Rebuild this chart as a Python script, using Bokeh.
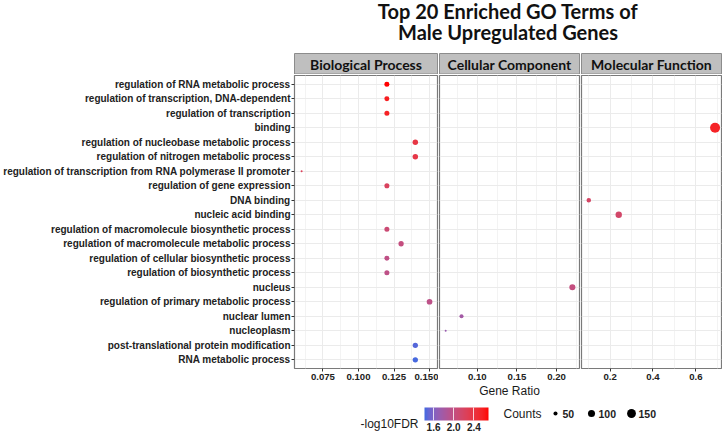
import numpy as np
from bokeh.plotting import figure
from bokeh.models import (ColumnDataSource, FactorRange, Range1d, FixedTicker,
                          NumeralTickFormatter, LinearColorMapper, ColorBar, Label)
from bokeh.layouts import column, row
from bokeh.transform import linear_cmap
from bokeh.embed import file_html
from bokeh.resources import INLINE
from bokeh.core.properties import value

# ---------------- data ----------------
title_lines = ["Top 20 Enriched GO Terms of", "Male Upregulated Genes"]
panels = ["Biological Process", "Cellular Component", "Molecular Function"]

terms = [
    "regulation of RNA metabolic process",
    "regulation of transcription, DNA-dependent",
    "regulation of transcription",
    "binding",
    "regulation of nucleobase metabolic process",
    "regulation of nitrogen metabolic process",
    "regulation of transcription from RNA polymerase II promoter",
    "regulation of gene expression",
    "DNA binding",
    "nucleic acid binding",
    "regulation of macromolecule biosynthetic process",
    "regulation of macromolecule metabolic process",
    "regulation of cellular biosynthetic process",
    "regulation of biosynthetic process",
    "nucleus",
    "regulation of primary metabolic process",
    "nuclear lumen",
    "nucleoplasm",
    "post-translational protein modification",
    "RNA metabolic process",
]
category = [
    "Biological Process", "Biological Process", "Biological Process",
    "Molecular Function",
    "Biological Process", "Biological Process", "Biological Process", "Biological Process",
    "Molecular Function", "Molecular Function",
    "Biological Process", "Biological Process", "Biological Process", "Biological Process",
    "Cellular Component",
    "Biological Process",
    "Cellular Component", "Cellular Component",
    "Biological Process", "Biological Process",
]
gene_ratio = [0.12, 0.12, 0.12, 0.69, 0.14, 0.14, 0.06, 0.12, 0.10, 0.24,
              0.12, 0.13, 0.12, 0.12, 0.22, 0.15, 0.08, 0.06, 0.14, 0.14]
counts = [61, 61, 62, 190, 68, 68, 40, 62, 55, 85,
          62, 65, 61, 62, 80, 72, 50, 40, 66, 66]
neg_log10_fdr = [2.69, 2.58, 2.56, 2.55, 2.38, 2.36, 2.25, 2.22, 2.18, 2.15,
                 2.08, 2.02, 1.98, 1.97, 2.02, 1.96, 1.78, 1.72, 1.46, 1.43]

x_limits = {"Biological Process": (0.0550, 0.1556),
            "Cellular Component": (0.0522, 0.2290),
            "Molecular Function": (0.0660, 0.7200)}
x_ticks = {"Biological Process": [0.075, 0.100, 0.125, 0.150],
           "Cellular Component": [0.10, 0.15, 0.20],
           "Molecular Function": [0.2, 0.4, 0.6]}
x_formats = {"Biological Process": "0.000",
             "Cellular Component": "0.00",
             "Molecular Function": "0.0"}
fdr_limits = (1.42, 2.69)
fdr_ticks = [1.6, 2.0, 2.4]
count_breaks = [50, 100, 150]

# ---------------- styling helpers ----------------
LOW_COL, HIGH_COL = "#4169E1", "#FF0000"
FONT = "Liberation Sans"
HFONT = "Lato"

def _lin(c):
    c = c / 255.0
    return c / 12.92 if c <= 0.04045 else ((c + 0.055) / 1.055) ** 2.4

def _gam(c):
    c = 12.92 * c if c <= 0.0031308 else 1.055 * c ** (1 / 2.4) - 0.055
    return min(max(c, 0.0), 1.0)

_M = np.array([[0.4124, 0.3576, 0.1805], [0.2126, 0.7152, 0.0722], [0.0193, 0.1192, 0.9505]])
_MI = np.linalg.inv(_M)
_W = np.array([0.95047, 1.0, 1.08883])
_d = 6 / 29

def _f(t):
    return t ** (1 / 3) if t > _d ** 3 else t / (3 * _d ** 2) + 4 / 29

def _fi(t):
    return t ** 3 if t > _d else 3 * _d ** 2 * (t - 4 / 29)

def to_lab(h):
    rgb = [_lin(int(h[i:i + 2], 16)) for i in (1, 3, 5)]
    x, y, z = _M @ np.array(rgb) / _W
    return np.array([116 * _f(y) - 16, 500 * (_f(x) - _f(y)), 200 * (_f(y) - _f(z))])

def from_lab(lab):
    L, a, b = lab
    fy = (L + 16) / 116
    xyz = np.array([_fi(fy + a / 500), _fi(fy), _fi(fy - b / 200)]) * _W
    rgb = _MI @ xyz
    return "#" + "".join("%02x" % int(round(_gam(c) * 255)) for c in rgb)

lab_lo, lab_hi = to_lab(LOW_COL), to_lab(HIGH_COL)
palette = [from_lab(lab_lo + (lab_hi - lab_lo) * t) for t in np.linspace(0, 1, 256)]

def size_of(c):
    c = np.asarray(c, dtype=float)
    return 2.0 + 8.0 * np.sqrt(np.clip((c - 40.0) / 150.0, 0, None))

def minor_of(ticks):
    step = ticks[1] - ticks[0]
    return [ticks[0] - step / 2] + [t + step / 2 for t in ticks]

# ---------------- layout constants ----------------
W = 722
LEFT = 294
FRAME_W = {"Biological Process": 143, "Cellular Component": 140, "Molecular Function": 140}
HEAD_H = 74
STRIP_H = 21
FRAME_H = 295
BOTTOM = 30
LEG_H = 33

yr = FactorRange(factors=terms[::-1], range_padding=0.1, range_padding_units="absolute")
mapper = LinearColorMapper(palette=palette, low=fdr_limits[0], high=fdr_limits[1])

figs = []
frame_lefts = []
xpos = 0
for k, panel in enumerate(panels):
    lb = LEFT if k == 0 else 1
    rb = 1
    fw = FRAME_W[panel]
    p = figure(width=lb + fw + rb, height=1 + FRAME_H + BOTTOM,
               x_range=Range1d(*x_limits[panel]), y_range=yr,
               output_backend="svg", toolbar_location=None,
               min_border_left=lb, min_border_right=rb,
               min_border_top=1, min_border_bottom=BOTTOM)
    frame_lefts.append(xpos + lb)
    xpos += lb + fw + rb
    idx = [i for i, c in enumerate(category) if c == panel]
    src = ColumnDataSource(dict(
        term=[terms[i] for i in idx],
        ratio=[gene_ratio[i] for i in idx],
        fdr=[neg_log10_fdr[i] for i in idx],
        size=size_of([counts[i] for i in idx]),
    ))
    p.scatter(x="ratio", y="term", size="size", source=src,
              fill_color=linear_cmap("fdr", palette, fdr_limits[0], fdr_limits[1]),
              line_color=None)
    tk = FixedTicker(ticks=x_ticks[panel], minor_ticks=minor_of(x_ticks[panel]))
    p.xaxis[0].ticker = tk
    p.xgrid[0].ticker = tk
    p.xaxis[0].formatter = NumeralTickFormatter(format=x_formats[panel])
    p.background_fill_color = "white"
    p.border_fill_color = "white"
    p.outline_line_color = "#7a7a7a"
    p.outline_line_width = 1.2
    p.xgrid.grid_line_color = "#EBEBEB"
    p.xgrid.minor_grid_line_color = "#F3F3F3"
    p.ygrid.grid_line_color = "#EBEBEB"
    for ax in p.axis:
        ax.axis_line_color = None
        ax.major_tick_line_color = "#333333"
        ax.major_tick_in = 0
        ax.major_tick_out = 3
        ax.minor_tick_line_color = None
        ax.major_label_text_font = FONT
        ax.major_label_text_font_style = "bold"
        ax.major_label_text_color = "#222222"
    p.xaxis.major_label_text_font_size = "9.6px"
    p.xaxis.major_label_standoff = 1
    p.yaxis.major_label_text_font_size = "10px"
    p.yaxis.major_label_standoff = 1
    if k > 0:
        p.yaxis.visible = False
    if k == 1:
        p.xaxis.axis_label = "Gene Ratio"
        p.xaxis.axis_label_text_font = FONT
        p.xaxis.axis_label_text_font_style = "normal"
        p.xaxis.axis_label_text_font_size = "12px"
        p.xaxis.axis_label_text_color = "#1a1a1a"
        p.xaxis.axis_label_standoff = 1
    figs.append(p)

# ---------------- header: title + facet strips ----------------
head = figure(width=W, height=HEAD_H, x_range=Range1d(0, W), y_range=Range1d(HEAD_H, 0),
              output_backend="svg", toolbar_location=None, min_border=0)
head.axis.visible = False
head.grid.visible = False
head.outline_line_color = None
strip_l = frame_lefts
strip_r = [l + FRAME_W[pn] for l, pn in zip(frame_lefts, panels)]
head.quad(left=strip_l, right=strip_r, top=[HEAD_H - STRIP_H] * 3, bottom=[HEAD_H - 0.5] * 3,
          fill_color="#BFBFBF", line_color="#8C8C8C", line_width=1)
head.text(x=[(l + r) / 2 for l, r in zip(strip_l, strip_r)], y=[HEAD_H - STRIP_H / 2] * 3,
          text=panels, text_font=value(HFONT), text_font_style="bold", text_font_size="14px",
          text_color="#111111", text_align="center", text_baseline="middle")
cx = (strip_l[0] + strip_r[-1]) / 2
for i, line in enumerate(title_lines):
    head.add_layout(Label(x=cx, y=10 + 21 * i, text=line, text_align="center",
                          text_baseline="middle", text_font=HFONT, text_font_style="bold",
                          text_font_size="20px", text_color="#111111"))

# ---------------- legends ----------------
leg = figure(width=W, height=LEG_H, x_range=Range1d(0, W), y_range=Range1d(LEG_H, 0),
             output_backend="svg", toolbar_location=None, min_border=0)
leg.axis.visible = False
leg.grid.visible = False
leg.outline_line_color = None
cb = ColorBar(color_mapper=mapper, orientation="horizontal", location=(424, 0),
              width=64, height=13, padding=0,
              ticker=FixedTicker(ticks=fdr_ticks),
              formatter=NumeralTickFormatter(format="0.0"),
              major_label_text_font=FONT, major_label_text_font_style="bold",
              major_label_text_font_size="10px", major_label_text_color="#222222",
              label_standoff=2,
              major_tick_line_color="white", major_tick_line_alpha=0.8,
              major_tick_in=13, major_tick_out=0, minor_tick_line_color=None,
              bar_line_color=None, border_line_color=None, background_fill_color=None)
leg.add_layout(cb)
leg.add_layout(Label(x=418, y=23, text="-log10FDR", text_align="right", text_baseline="middle",
                     text_font=FONT, text_font_size="12px", text_color="#1a1a1a"))
leg.add_layout(Label(x=503, y=13, text="Counts", text_align="left", text_baseline="middle",
                     text_font=FONT, text_font_size="12px", text_color="#1a1a1a"))
key_x = [555, 591, 631]
leg.scatter(x=key_x, y=[13] * 3, size=size_of(count_breaks), fill_color="black", line_color=None)
leg.text(x=[x + 7 for x in key_x], y=[13] * 3, text=[str(b) for b in count_breaks],
         text_font=value(FONT), text_font_style="bold", text_font_size="10.5px",
         text_color="#222222", text_baseline="middle")

layout = column(head, row(*figs), leg)
open("out.html", "w").write(file_html(layout, INLINE))
